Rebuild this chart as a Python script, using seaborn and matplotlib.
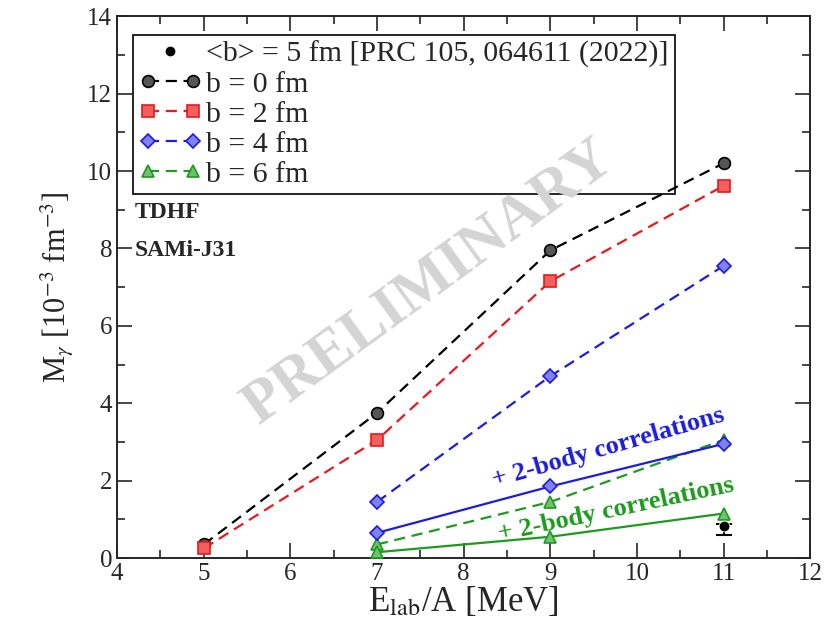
import numpy as np
import pandas as pd
import seaborn as sns
import matplotlib.pyplot as plt
from matplotlib.legend_handler import HandlerLine2D
from matplotlib.ticker import MultipleLocator

# energies (MeV/nucleon)
e_tdhf = [5, 7, 9, 11]
e_corr = [7, 9, 11]

# TDHF multiplicities, 10^-3 fm^-3
m_b0 = [0.35, 3.75, 7.95, 10.2]
m_b2 = [0.25, 3.05, 7.15, 9.62]
m_b4 = [1.45, 4.70, 7.55]
m_b6 = [0.35, 1.45, 3.05]

# with 2-body correlations
m_b4_corr = [0.65, 1.85, 2.95]
m_b6_corr = [0.15, 0.55, 1.15]

# previous result
e_prev = [11]
m_prev = [0.82]
err_prev_lo = [0.22]
err_prev_hi = [0.05]

sns.set_style("ticks")
plt.rcParams["font.family"] = ["Liberation Serif", "DejaVu Serif"]
plt.rcParams["mathtext.fontset"] = "stix"

fig, ax = plt.subplots(figsize=(8.25, 6.27), dpi=100)
fig.subplots_adjust(left=0.142, right=0.982, bottom=0.110, top=0.974)

# watermark (sits over the legend frame, under the curves)
ax.text(7.6, 7.1, "PRELIMINARY", fontsize=44, fontweight="bold", color="#d4d4d4",
        rotation=36, ha="center", va="center", rotation_mode="anchor", zorder=2)

series = [
    ("b = 0 fm", e_tdhf, m_b0, "black", "o", "#555555"),
    ("b = 2 fm", e_tdhf, m_b2, "#e8191c", "s", "#f06060"),
    ("b = 4 fm", e_corr, m_b4, "#1c1cdc", "D", "#8080f0"),
    ("b = 6 fm", e_corr, m_b6, "#1e9a1e", "^", "#70c070"),
]

handles = []
for lab, xs, ys, col, mk, fc in series:
    df = pd.DataFrame({"E": xs, "M": ys})
    sns.lineplot(data=df, x="E", y="M", ax=ax, color=col, linestyle=(0, (5, 3)),
                 linewidth=1.6, marker=mk, markersize=8.5 if mk != "D" else 7,
                 markerfacecolor=fc, markeredgecolor=col, markeredgewidth=1.2,
                 zorder=3)
    handles.append((ax.lines[-1], lab))

corr = [(e_corr, m_b4_corr, "#1c1cdc", "D", "#8080f0"),
        (e_corr, m_b6_corr, "#1e9a1e", "^", "#70c070")]
for xs, ys, col, mk, fc in corr:
    df = pd.DataFrame({"E": xs, "M": ys})
    sns.lineplot(data=df, x="E", y="M", ax=ax, color=col, linestyle="-",
                 linewidth=1.6, marker=mk, markersize=8.5 if mk != "D" else 7,
                 markerfacecolor=fc, markeredgecolor=col, markeredgewidth=1.2,
                 zorder=3)

ax.errorbar(e_prev, m_prev, yerr=[err_prev_lo, err_prev_hi], fmt="none",
            ecolor="black", elinewidth=1.5, capsize=6, capthick=1.5, zorder=4)
sns.scatterplot(x=e_prev, y=m_prev, ax=ax, color="black", s=60, zorder=5)
prev_handle = plt.Line2D([], [], color="black", marker="o", linestyle="none",
                         markersize=6)

leg_handles = [prev_handle] + [h for h, _ in handles]
leg_labels = ["<b> = 5 fm [PRC 105, 064611 (2022)]"] + [l for _, l in handles]
leg = ax.legend(leg_handles, leg_labels, loc="upper left",
                bbox_to_anchor=(0.023, 0.966), borderaxespad=0, numpoints=2,
                handler_map={prev_handle: HandlerLine2D(numpoints=1)},
                fontsize=21.5, frameon=True, fancybox=False, edgecolor="black",
                framealpha=1, handlelength=2.1, handletextpad=0.15,
                labelspacing=0.1, borderpad=0.2)
leg.get_frame().set_linewidth(1.2)
leg.set_zorder(1)

ax.text(4.2, 8.94, "TDHF", fontsize=17, fontweight="bold", va="center")
ax.text(4.2, 7.96, "SAMi-J31", fontsize=17, fontweight="bold", va="center")

ax.text(9.67, 2.86, "+ 2-body correlations", fontsize=19, fontweight="bold",
        color="#1c1cdc", rotation=16, ha="center", va="center",
        rotation_mode="anchor")
ax.text(9.76, 1.26, "+ 2-body correlations", fontsize=19, fontweight="bold",
        color="#1e9a1e", rotation=12, ha="center", va="center",
        rotation_mode="anchor")

ax.set_xlim(4, 12)
ax.set_ylim(0, 14)
ax.xaxis.set_major_locator(MultipleLocator(1))
ax.xaxis.set_minor_locator(MultipleLocator(0.5))
ax.yaxis.set_major_locator(MultipleLocator(2))
ax.yaxis.set_minor_locator(MultipleLocator(1))
ax.tick_params(which="both", direction="in", top=True, right=True, labelsize=18,
               width=1.2)
ax.tick_params(which="major", length=11)
ax.tick_params(which="minor", length=6)
for sp in ax.spines.values():
    sp.set_linewidth(1.4)

ax.set_xlabel(r"E$_{\mathrm{lab}}$/A [MeV]", fontsize=25, labelpad=0)
ax.set_ylabel(r"M$_\gamma$ [10$^{-3}$ fm$^{-3}$]", fontsize=22, labelpad=8)

fig.savefig("out.png", dpi=100)
